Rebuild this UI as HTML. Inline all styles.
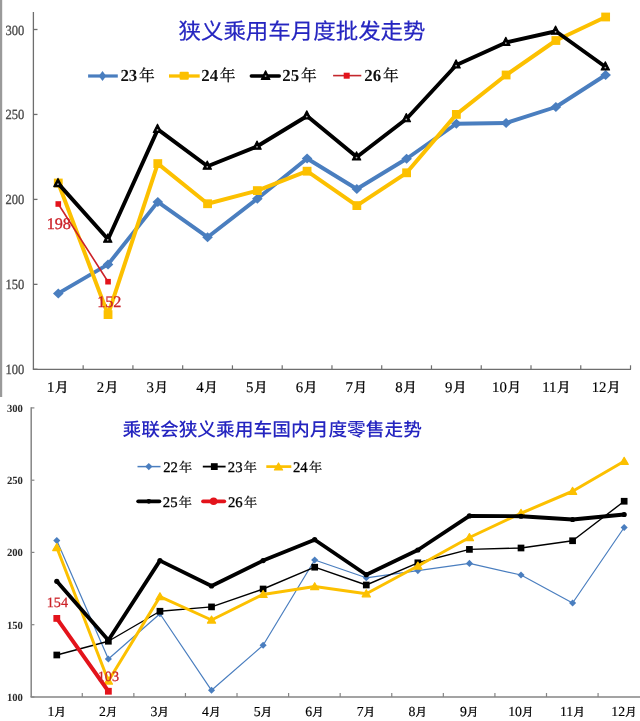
<!DOCTYPE html><html><head><meta charset="utf-8"><title>狭义乘用车走势</title><style>html,body{margin:0;padding:0;background:#fff;overflow:hidden;}svg{display:block;text-rendering:geometricPrecision;}</style></head><body>
<svg width="640" height="721" viewBox="0 0 640 721">
<rect width="640" height="721" fill="#fff"/>
<rect x="0" y="0" width="2.2" height="397" fill="#9a9a9a"/>
<line x1="33.4" y1="12" x2="33.4" y2="369.3" stroke="#6e6e6e" stroke-width="1.3"/>
<line x1="32.8" y1="369.3" x2="631" y2="369.3" stroke="#6e6e6e" stroke-width="1.3"/>
<line x1="33.4" y1="29.5" x2="37.5" y2="29.5" stroke="#6e6e6e" stroke-width="1.3"/>
<text x="24.3" y="34.5" text-anchor="end" font-family="'Liberation Serif','Noto Serif CJK SC',serif" font-size="14" fill="#4a4a4a" stroke="#4a4a4a" stroke-width="0.3" textLength="18.8" lengthAdjust="spacingAndGlyphs">300</text>
<line x1="33.4" y1="114.45" x2="37.5" y2="114.45" stroke="#6e6e6e" stroke-width="1.3"/>
<text x="24.3" y="119.45" text-anchor="end" font-family="'Liberation Serif','Noto Serif CJK SC',serif" font-size="14" fill="#4a4a4a" stroke="#4a4a4a" stroke-width="0.3" textLength="18.8" lengthAdjust="spacingAndGlyphs">250</text>
<line x1="33.4" y1="199.4" x2="37.5" y2="199.4" stroke="#6e6e6e" stroke-width="1.3"/>
<text x="24.3" y="204.4" text-anchor="end" font-family="'Liberation Serif','Noto Serif CJK SC',serif" font-size="14" fill="#4a4a4a" stroke="#4a4a4a" stroke-width="0.3" textLength="18.8" lengthAdjust="spacingAndGlyphs">200</text>
<line x1="33.4" y1="284.35" x2="37.5" y2="284.35" stroke="#6e6e6e" stroke-width="1.3"/>
<text x="24.3" y="289.35" text-anchor="end" font-family="'Liberation Serif','Noto Serif CJK SC',serif" font-size="14" fill="#4a4a4a" stroke="#4a4a4a" stroke-width="0.3" textLength="18.8" lengthAdjust="spacingAndGlyphs">150</text>
<line x1="33.4" y1="369.3" x2="37.5" y2="369.3" stroke="#6e6e6e" stroke-width="1.3"/>
<text x="24.3" y="374.3" text-anchor="end" font-family="'Liberation Serif','Noto Serif CJK SC',serif" font-size="14" fill="#4a4a4a" stroke="#4a4a4a" stroke-width="0.3" textLength="18.8" lengthAdjust="spacingAndGlyphs">100</text>
<line x1="83.16" y1="365.3" x2="83.16" y2="369.3" stroke="#6e6e6e" stroke-width="1.2"/>
<line x1="132.92" y1="365.3" x2="132.92" y2="369.3" stroke="#6e6e6e" stroke-width="1.2"/>
<line x1="182.68" y1="365.3" x2="182.68" y2="369.3" stroke="#6e6e6e" stroke-width="1.2"/>
<line x1="232.44" y1="365.3" x2="232.44" y2="369.3" stroke="#6e6e6e" stroke-width="1.2"/>
<line x1="282.2" y1="365.3" x2="282.2" y2="369.3" stroke="#6e6e6e" stroke-width="1.2"/>
<line x1="331.96" y1="365.3" x2="331.96" y2="369.3" stroke="#6e6e6e" stroke-width="1.2"/>
<line x1="381.72" y1="365.3" x2="381.72" y2="369.3" stroke="#6e6e6e" stroke-width="1.2"/>
<line x1="431.48" y1="365.3" x2="431.48" y2="369.3" stroke="#6e6e6e" stroke-width="1.2"/>
<line x1="481.24" y1="365.3" x2="481.24" y2="369.3" stroke="#6e6e6e" stroke-width="1.2"/>
<line x1="531" y1="365.3" x2="531" y2="369.3" stroke="#6e6e6e" stroke-width="1.2"/>
<line x1="580.76" y1="365.3" x2="580.76" y2="369.3" stroke="#6e6e6e" stroke-width="1.2"/>
<line x1="630.52" y1="365.3" x2="630.52" y2="369.3" stroke="#6e6e6e" stroke-width="1.2"/>
<text x="57.68" y="392.3" text-anchor="middle" fill="#000"><tspan font-family="Liberation Serif" font-size="14.8" font-weight="normal" stroke="#000" stroke-width="0.15">1</tspan><tspan font-family="'Noto Serif CJK SC',serif" font-size="13.6" font-weight="normal" dx="0.6" stroke="#000" stroke-width="0.4">月</tspan></text>
<text x="107.44" y="392.3" text-anchor="middle" fill="#000"><tspan font-family="Liberation Serif" font-size="14.8" font-weight="normal" stroke="#000" stroke-width="0.15">2</tspan><tspan font-family="'Noto Serif CJK SC',serif" font-size="13.6" font-weight="normal" dx="0.6" stroke="#000" stroke-width="0.4">月</tspan></text>
<text x="157.2" y="392.3" text-anchor="middle" fill="#000"><tspan font-family="Liberation Serif" font-size="14.8" font-weight="normal" stroke="#000" stroke-width="0.15">3</tspan><tspan font-family="'Noto Serif CJK SC',serif" font-size="13.6" font-weight="normal" dx="0.6" stroke="#000" stroke-width="0.4">月</tspan></text>
<text x="206.96" y="392.3" text-anchor="middle" fill="#000"><tspan font-family="Liberation Serif" font-size="14.8" font-weight="normal" stroke="#000" stroke-width="0.15">4</tspan><tspan font-family="'Noto Serif CJK SC',serif" font-size="13.6" font-weight="normal" dx="0.6" stroke="#000" stroke-width="0.4">月</tspan></text>
<text x="256.72" y="392.3" text-anchor="middle" fill="#000"><tspan font-family="Liberation Serif" font-size="14.8" font-weight="normal" stroke="#000" stroke-width="0.15">5</tspan><tspan font-family="'Noto Serif CJK SC',serif" font-size="13.6" font-weight="normal" dx="0.6" stroke="#000" stroke-width="0.4">月</tspan></text>
<text x="306.48" y="392.3" text-anchor="middle" fill="#000"><tspan font-family="Liberation Serif" font-size="14.8" font-weight="normal" stroke="#000" stroke-width="0.15">6</tspan><tspan font-family="'Noto Serif CJK SC',serif" font-size="13.6" font-weight="normal" dx="0.6" stroke="#000" stroke-width="0.4">月</tspan></text>
<text x="356.24" y="392.3" text-anchor="middle" fill="#000"><tspan font-family="Liberation Serif" font-size="14.8" font-weight="normal" stroke="#000" stroke-width="0.15">7</tspan><tspan font-family="'Noto Serif CJK SC',serif" font-size="13.6" font-weight="normal" dx="0.6" stroke="#000" stroke-width="0.4">月</tspan></text>
<text x="406" y="392.3" text-anchor="middle" fill="#000"><tspan font-family="Liberation Serif" font-size="14.8" font-weight="normal" stroke="#000" stroke-width="0.15">8</tspan><tspan font-family="'Noto Serif CJK SC',serif" font-size="13.6" font-weight="normal" dx="0.6" stroke="#000" stroke-width="0.4">月</tspan></text>
<text x="455.76" y="392.3" text-anchor="middle" fill="#000"><tspan font-family="Liberation Serif" font-size="14.8" font-weight="normal" stroke="#000" stroke-width="0.15">9</tspan><tspan font-family="'Noto Serif CJK SC',serif" font-size="13.6" font-weight="normal" dx="0.6" stroke="#000" stroke-width="0.4">月</tspan></text>
<text x="506.62" y="392.3" text-anchor="middle" fill="#000"><tspan font-family="Liberation Serif" font-size="14.8" font-weight="normal" stroke="#000" stroke-width="0.15">10</tspan><tspan font-family="'Noto Serif CJK SC',serif" font-size="13.6" font-weight="normal" dx="0.6" stroke="#000" stroke-width="0.4">月</tspan></text>
<text x="556.38" y="392.3" text-anchor="middle" fill="#000"><tspan font-family="Liberation Serif" font-size="14.8" font-weight="normal" stroke="#000" stroke-width="0.15">11</tspan><tspan font-family="'Noto Serif CJK SC',serif" font-size="13.6" font-weight="normal" dx="0.6" stroke="#000" stroke-width="0.4">月</tspan></text>
<text x="606.14" y="392.3" text-anchor="middle" fill="#000"><tspan font-family="Liberation Serif" font-size="14.8" font-weight="normal" stroke="#000" stroke-width="0.15">12</tspan><tspan font-family="'Noto Serif CJK SC',serif" font-size="13.6" font-weight="normal" dx="0.6" stroke="#000" stroke-width="0.4">月</tspan></text>
<text x="178.5" y="38.6" font-family="'Noto Sans CJK SC','Liberation Sans',sans-serif" font-size="22" font-weight="normal" fill="#2525c0" stroke="#2525c0" stroke-width="0.2" textLength="247" lengthAdjust="spacingAndGlyphs">狭义乘用车月度批发走势</text>
<polyline points="88.1,76 117.8,76" fill="none" stroke="#4a7ebf" stroke-width="3.2" stroke-linejoin="round" stroke-linecap="butt"/>
<path d="M102.5 70.9L106.2 76L102.5 81.1L98.8 76Z" fill="#4a7ebf"/>
<polyline points="169,76 199.7,76" fill="none" stroke="#fcc000" stroke-width="3.3" stroke-linejoin="round" stroke-linecap="butt"/>
<rect x="179.6" y="71.7" width="9.2" height="8.1" rx="1" fill="#fcc000"/>
<polyline points="251.3,76 279.3,76" fill="none" stroke="#000" stroke-width="3.4" stroke-linejoin="round" stroke-linecap="round"/>
<path d="M265.6 70.8L269.9 79.5L261.3 79.5Z" fill="#000" stroke="#000" stroke-width="1.2" stroke-linejoin="round"/><circle cx="265.6" cy="76.1" r="0.9" fill="#999"/>
<polyline points="333.1,75.6 361.3,75.6" fill="none" stroke="#c4262c" stroke-width="1.6" stroke-linejoin="round" stroke-linecap="butt"/>
<rect x="343.7" y="72.7" width="6" height="6" fill="#e3131b"/>
<text x="120.4" y="81.2" fill="#111"><tspan font-family="Liberation Serif" font-size="16.9" font-weight="bold">23</tspan><tspan font-family="'Noto Serif CJK SC',serif" font-size="15.8" font-weight="normal" dx="1.7" stroke="#111" stroke-width="0.3">年</tspan></text>
<text x="201.2" y="81.2" fill="#111"><tspan font-family="Liberation Serif" font-size="16.9" font-weight="bold">24</tspan><tspan font-family="'Noto Serif CJK SC',serif" font-size="15.8" font-weight="normal" dx="1.7" stroke="#111" stroke-width="0.3">年</tspan></text>
<text x="282.3" y="81.2" fill="#111"><tspan font-family="Liberation Serif" font-size="16.9" font-weight="bold">25</tspan><tspan font-family="'Noto Serif CJK SC',serif" font-size="15.8" font-weight="normal" dx="1.7" stroke="#111" stroke-width="0.3">年</tspan></text>
<text x="364.3" y="81.2" fill="#111"><tspan font-family="Liberation Serif" font-size="16.9" font-weight="bold">26</tspan><tspan font-family="'Noto Serif CJK SC',serif" font-size="15.8" font-weight="normal" dx="1.7" stroke="#111" stroke-width="0.3">年</tspan></text>
<polyline points="58.28,293.4 108.04,264.4 157.8,201.9 207.56,237.2 257.32,198.75 307.08,158.5 356.84,189 406.6,158.75 456.36,123.75 506.12,123 555.88,107 605.64,75" fill="none" stroke="#4a7ebf" stroke-width="3.9" stroke-linejoin="round" stroke-linecap="round"/>
<path d="M58.28 288.4L63.58 293.4L58.28 298.4L52.98 293.4Z" fill="#4a7ebf"/>
<path d="M108.04 259.4L113.34 264.4L108.04 269.4L102.74 264.4Z" fill="#4a7ebf"/>
<path d="M157.8 196.9L163.1 201.9L157.8 206.9L152.5 201.9Z" fill="#4a7ebf"/>
<path d="M207.56 232.2L212.86 237.2L207.56 242.2L202.26 237.2Z" fill="#4a7ebf"/>
<path d="M257.32 193.75L262.62 198.75L257.32 203.75L252.02 198.75Z" fill="#4a7ebf"/>
<path d="M307.08 153.5L312.38 158.5L307.08 163.5L301.78 158.5Z" fill="#4a7ebf"/>
<path d="M356.84 184L362.14 189L356.84 194L351.54 189Z" fill="#4a7ebf"/>
<path d="M406.6 153.75L411.9 158.75L406.6 163.75L401.3 158.75Z" fill="#4a7ebf"/>
<path d="M456.36 118.75L461.66 123.75L456.36 128.75L451.06 123.75Z" fill="#4a7ebf"/>
<path d="M506.12 118L511.42 123L506.12 128L500.82 123Z" fill="#4a7ebf"/>
<path d="M555.88 102L561.18 107L555.88 112L550.58 107Z" fill="#4a7ebf"/>
<path d="M605.64 70L610.94 75L605.64 80L600.34 75Z" fill="#4a7ebf"/>
<polyline points="58.28,183 108.04,314.6 157.8,163.6 207.56,203.75 257.32,190.6 307.08,171.2 356.84,205.6 406.6,172.8 456.36,114.4 506.12,75 555.88,40.5 605.64,17" fill="none" stroke="#fcc000" stroke-width="4.0" stroke-linejoin="round" stroke-linecap="round"/>
<rect x="53.88" y="178.6" width="8.8" height="8.8" fill="#fcc000"/>
<rect x="103.64" y="310.2" width="8.8" height="8.8" fill="#fcc000"/>
<rect x="153.4" y="159.2" width="8.8" height="8.8" fill="#fcc000"/>
<rect x="203.16" y="199.35" width="8.8" height="8.8" fill="#fcc000"/>
<rect x="252.92" y="186.2" width="8.8" height="8.8" fill="#fcc000"/>
<rect x="302.68" y="166.8" width="8.8" height="8.8" fill="#fcc000"/>
<rect x="352.44" y="201.2" width="8.8" height="8.8" fill="#fcc000"/>
<rect x="402.2" y="168.4" width="8.8" height="8.8" fill="#fcc000"/>
<rect x="451.96" y="110" width="8.8" height="8.8" fill="#fcc000"/>
<rect x="501.72" y="70.6" width="8.8" height="8.8" fill="#fcc000"/>
<rect x="551.48" y="36.1" width="8.8" height="8.8" fill="#fcc000"/>
<rect x="601.24" y="12.6" width="8.8" height="8.8" fill="#fcc000"/>
<polyline points="58.28,183.6 108.04,239.2 157.8,129.4 207.56,166.25 257.32,146.25 307.08,116 356.84,157 406.6,118.75 456.36,65 506.12,42.5 555.88,31.25 605.64,67" fill="none" stroke="#000" stroke-width="3.9" stroke-linejoin="round" stroke-linecap="round"/>
<path d="M57.98 178.4L62.18 186.6L53.78 186.6Z" fill="#000" stroke="#000" stroke-width="1.2" stroke-linejoin="round"/><circle cx="57.98" cy="184.2" r="0.9" fill="#aaa"/>
<path d="M107.74 234L111.94 242.2L103.54 242.2Z" fill="#000" stroke="#000" stroke-width="1.2" stroke-linejoin="round"/><circle cx="107.74" cy="239.8" r="0.9" fill="#aaa"/>
<path d="M157.5 124.2L161.7 132.4L153.3 132.4Z" fill="#000" stroke="#000" stroke-width="1.2" stroke-linejoin="round"/><circle cx="157.5" cy="130" r="0.9" fill="#aaa"/>
<path d="M207.26 161.05L211.46 169.25L203.06 169.25Z" fill="#000" stroke="#000" stroke-width="1.2" stroke-linejoin="round"/><circle cx="207.26" cy="166.85" r="0.9" fill="#aaa"/>
<path d="M257.02 141.05L261.22 149.25L252.82 149.25Z" fill="#000" stroke="#000" stroke-width="1.2" stroke-linejoin="round"/><circle cx="257.02" cy="146.85" r="0.9" fill="#aaa"/>
<path d="M306.78 110.8L310.98 119L302.58 119Z" fill="#000" stroke="#000" stroke-width="1.2" stroke-linejoin="round"/><circle cx="306.78" cy="116.6" r="0.9" fill="#aaa"/>
<path d="M356.54 151.8L360.74 160L352.34 160Z" fill="#000" stroke="#000" stroke-width="1.2" stroke-linejoin="round"/><circle cx="356.54" cy="157.6" r="0.9" fill="#aaa"/>
<path d="M406.3 113.55L410.5 121.75L402.1 121.75Z" fill="#000" stroke="#000" stroke-width="1.2" stroke-linejoin="round"/><circle cx="406.3" cy="119.35" r="0.9" fill="#aaa"/>
<path d="M456.06 59.8L460.26 68L451.86 68Z" fill="#000" stroke="#000" stroke-width="1.2" stroke-linejoin="round"/><circle cx="456.06" cy="65.6" r="0.9" fill="#aaa"/>
<path d="M505.82 37.3L510.02 45.5L501.62 45.5Z" fill="#000" stroke="#000" stroke-width="1.2" stroke-linejoin="round"/><circle cx="505.82" cy="43.1" r="0.9" fill="#aaa"/>
<path d="M555.58 26.05L559.78 34.25L551.38 34.25Z" fill="#000" stroke="#000" stroke-width="1.2" stroke-linejoin="round"/><circle cx="555.58" cy="31.85" r="0.9" fill="#aaa"/>
<path d="M605.34 61.8L609.54 70L601.14 70Z" fill="#000" stroke="#000" stroke-width="1.2" stroke-linejoin="round"/><circle cx="605.34" cy="67.6" r="0.9" fill="#aaa"/>
<polyline points="58.28,204 108.04,281.7" fill="none" stroke="#cc2228" stroke-width="1.6" stroke-linejoin="round" stroke-linecap="round"/>
<rect x="55.48" y="201.2" width="5.6" height="5.6" fill="#e3131b"/>
<rect x="105.24" y="278.9" width="5.6" height="5.6" fill="#e3131b"/>
<text x="58.8" y="228.8" text-anchor="middle" font-family="'Liberation Serif','Noto Serif CJK SC',serif" font-size="16.2" fill="#cc2229" stroke="#cc2229" stroke-width="0.3">198</text>
<text x="109.3" y="307" text-anchor="middle" font-family="'Liberation Serif','Noto Serif CJK SC',serif" font-size="16.2" fill="#cc2229" stroke="#cc2229" stroke-width="0.3">152</text>
<line x1="31.2" y1="407.2" x2="31.2" y2="697" stroke="#858585" stroke-width="1.5"/>
<line x1="30.5" y1="697" x2="640" y2="697" stroke="#858585" stroke-width="1.6"/>
<line x1="31.2" y1="407.9" x2="34.4" y2="407.9" stroke="#858585" stroke-width="1.2"/>
<text x="22.9" y="411.7" text-anchor="end" font-family="'Liberation Serif','Noto Serif CJK SC',serif" font-weight="bold" font-size="11" fill="#2a2a2a" textLength="16" lengthAdjust="spacingAndGlyphs">300</text>
<line x1="31.2" y1="480.2" x2="34.4" y2="480.2" stroke="#858585" stroke-width="1.2"/>
<text x="22.9" y="484" text-anchor="end" font-family="'Liberation Serif','Noto Serif CJK SC',serif" font-weight="bold" font-size="11" fill="#2a2a2a" textLength="16" lengthAdjust="spacingAndGlyphs">250</text>
<line x1="31.2" y1="552.4" x2="34.4" y2="552.4" stroke="#858585" stroke-width="1.2"/>
<text x="22.9" y="556.2" text-anchor="end" font-family="'Liberation Serif','Noto Serif CJK SC',serif" font-weight="bold" font-size="11" fill="#2a2a2a" textLength="16" lengthAdjust="spacingAndGlyphs">200</text>
<line x1="31.2" y1="624.7" x2="34.4" y2="624.7" stroke="#858585" stroke-width="1.2"/>
<text x="22.9" y="628.5" text-anchor="end" font-family="'Liberation Serif','Noto Serif CJK SC',serif" font-weight="bold" font-size="11" fill="#2a2a2a" textLength="16" lengthAdjust="spacingAndGlyphs">150</text>
<line x1="31.2" y1="697" x2="34.4" y2="697" stroke="#858585" stroke-width="1.2"/>
<text x="22.9" y="700.8" text-anchor="end" font-family="'Liberation Serif','Noto Serif CJK SC',serif" font-weight="bold" font-size="11" fill="#2a2a2a" textLength="16" lengthAdjust="spacingAndGlyphs">100</text>
<line x1="82.28" y1="693" x2="82.28" y2="697" stroke="#858585" stroke-width="1.2"/>
<line x1="133.86" y1="693" x2="133.86" y2="697" stroke="#858585" stroke-width="1.2"/>
<line x1="185.44" y1="693" x2="185.44" y2="697" stroke="#858585" stroke-width="1.2"/>
<line x1="237.02" y1="693" x2="237.02" y2="697" stroke="#858585" stroke-width="1.2"/>
<line x1="288.6" y1="693" x2="288.6" y2="697" stroke="#858585" stroke-width="1.2"/>
<line x1="340.18" y1="693" x2="340.18" y2="697" stroke="#858585" stroke-width="1.2"/>
<line x1="391.76" y1="693" x2="391.76" y2="697" stroke="#858585" stroke-width="1.2"/>
<line x1="443.34" y1="693" x2="443.34" y2="697" stroke="#858585" stroke-width="1.2"/>
<line x1="494.92" y1="693" x2="494.92" y2="697" stroke="#858585" stroke-width="1.2"/>
<line x1="546.5" y1="693" x2="546.5" y2="697" stroke="#858585" stroke-width="1.2"/>
<line x1="598.08" y1="693" x2="598.08" y2="697" stroke="#858585" stroke-width="1.2"/>
<text x="56.59" y="715.6" text-anchor="middle" fill="#000"><tspan font-family="Liberation Serif" font-size="13.8" font-weight="normal" stroke="#000" stroke-width="0.15">1</tspan><tspan font-family="'Noto Serif CJK SC',serif" font-size="11.4" font-weight="normal" dx="0.1" stroke="#000" stroke-width="0.35">月</tspan></text>
<text x="108.17" y="715.6" text-anchor="middle" fill="#000"><tspan font-family="Liberation Serif" font-size="13.8" font-weight="normal" stroke="#000" stroke-width="0.15">2</tspan><tspan font-family="'Noto Serif CJK SC',serif" font-size="11.4" font-weight="normal" dx="0.1" stroke="#000" stroke-width="0.35">月</tspan></text>
<text x="159.75" y="715.6" text-anchor="middle" fill="#000"><tspan font-family="Liberation Serif" font-size="13.8" font-weight="normal" stroke="#000" stroke-width="0.15">3</tspan><tspan font-family="'Noto Serif CJK SC',serif" font-size="11.4" font-weight="normal" dx="0.1" stroke="#000" stroke-width="0.35">月</tspan></text>
<text x="211.33" y="715.6" text-anchor="middle" fill="#000"><tspan font-family="Liberation Serif" font-size="13.8" font-weight="normal" stroke="#000" stroke-width="0.15">4</tspan><tspan font-family="'Noto Serif CJK SC',serif" font-size="11.4" font-weight="normal" dx="0.1" stroke="#000" stroke-width="0.35">月</tspan></text>
<text x="262.91" y="715.6" text-anchor="middle" fill="#000"><tspan font-family="Liberation Serif" font-size="13.8" font-weight="normal" stroke="#000" stroke-width="0.15">5</tspan><tspan font-family="'Noto Serif CJK SC',serif" font-size="11.4" font-weight="normal" dx="0.1" stroke="#000" stroke-width="0.35">月</tspan></text>
<text x="314.49" y="715.6" text-anchor="middle" fill="#000"><tspan font-family="Liberation Serif" font-size="13.8" font-weight="normal" stroke="#000" stroke-width="0.15">6</tspan><tspan font-family="'Noto Serif CJK SC',serif" font-size="11.4" font-weight="normal" dx="0.1" stroke="#000" stroke-width="0.35">月</tspan></text>
<text x="366.07" y="715.6" text-anchor="middle" fill="#000"><tspan font-family="Liberation Serif" font-size="13.8" font-weight="normal" stroke="#000" stroke-width="0.15">7</tspan><tspan font-family="'Noto Serif CJK SC',serif" font-size="11.4" font-weight="normal" dx="0.1" stroke="#000" stroke-width="0.35">月</tspan></text>
<text x="417.65" y="715.6" text-anchor="middle" fill="#000"><tspan font-family="Liberation Serif" font-size="13.8" font-weight="normal" stroke="#000" stroke-width="0.15">8</tspan><tspan font-family="'Noto Serif CJK SC',serif" font-size="11.4" font-weight="normal" dx="0.1" stroke="#000" stroke-width="0.35">月</tspan></text>
<text x="469.23" y="715.6" text-anchor="middle" fill="#000"><tspan font-family="Liberation Serif" font-size="13.8" font-weight="normal" stroke="#000" stroke-width="0.15">9</tspan><tspan font-family="'Noto Serif CJK SC',serif" font-size="11.4" font-weight="normal" dx="0.1" stroke="#000" stroke-width="0.35">月</tspan></text>
<text x="520.81" y="715.6" text-anchor="middle" fill="#000"><tspan font-family="Liberation Serif" font-size="13.8" font-weight="normal" stroke="#000" stroke-width="0.15">10</tspan><tspan font-family="'Noto Serif CJK SC',serif" font-size="11.4" font-weight="normal" dx="0.1" stroke="#000" stroke-width="0.35">月</tspan></text>
<text x="572.39" y="715.6" text-anchor="middle" fill="#000"><tspan font-family="Liberation Serif" font-size="13.8" font-weight="normal" stroke="#000" stroke-width="0.15">11</tspan><tspan font-family="'Noto Serif CJK SC',serif" font-size="11.4" font-weight="normal" dx="0.1" stroke="#000" stroke-width="0.35">月</tspan></text>
<text x="623.97" y="715.6" text-anchor="middle" fill="#000"><tspan font-family="Liberation Serif" font-size="13.8" font-weight="normal" stroke="#000" stroke-width="0.15">12</tspan><tspan font-family="'Noto Serif CJK SC',serif" font-size="11.4" font-weight="normal" dx="0.1" stroke="#000" stroke-width="0.35">月</tspan></text>
<text x="122.5" y="435.5" font-family="'Noto Sans CJK SC','Liberation Sans',sans-serif" font-size="18.5" font-weight="500" fill="#2525c0" textLength="299.5" lengthAdjust="spacingAndGlyphs">乘联会狭义乘用车国内月度零售走势</text>
<polyline points="137.5,466.6 160.5,466.6" fill="none" stroke="#4a7ebf" stroke-width="1.5" stroke-linejoin="round" stroke-linecap="butt"/>
<path d="M148.8 463L152.4 466.6L148.8 470.2L145.2 466.6Z" fill="#4a7ebf"/>
<polyline points="202.8,466.6 225.6,466.6" fill="none" stroke="#000" stroke-width="1.8" stroke-linejoin="round" stroke-linecap="butt"/>
<rect x="210.9" y="463.2" width="6.8" height="6.8" fill="#000"/>
<polyline points="266.3,466.6 291.3,466.6" fill="none" stroke="#fcc000" stroke-width="2.7" stroke-linejoin="round" stroke-linecap="butt"/>
<path d="M278.5 463L282.6 470.02L274.4 470.02Z" fill="#fcc000" stroke="#fcc000" stroke-width="1.2" stroke-linejoin="round"/>
<polyline points="138.2,501.3 159.4,501.3" fill="none" stroke="#000" stroke-width="3.8" stroke-linejoin="round" stroke-linecap="round"/>
<circle cx="148.8" cy="501.3" r="2.4" fill="#000"/>
<polyline points="203,501.3 224.3,501.3" fill="none" stroke="#e3131b" stroke-width="3.7" stroke-linejoin="round" stroke-linecap="round"/>
<circle cx="213.6" cy="501.3" r="3.8" fill="#e3131b"/>
<text x="163.2" y="471.8" fill="#000"><tspan font-family="Liberation Serif" font-size="14.7" font-weight="normal" stroke="#000" stroke-width="0.3">22</tspan><tspan font-family="'Noto Serif CJK SC',serif" font-size="13.2" font-weight="normal" dx="1.2" stroke="#000" stroke-width="0.2">年</tspan></text>
<text x="227.8" y="471.8" fill="#000"><tspan font-family="Liberation Serif" font-size="14.7" font-weight="normal" stroke="#000" stroke-width="0.3">23</tspan><tspan font-family="'Noto Serif CJK SC',serif" font-size="13.2" font-weight="normal" dx="1.2" stroke="#000" stroke-width="0.2">年</tspan></text>
<text x="293" y="471.8" fill="#000"><tspan font-family="Liberation Serif" font-size="14.7" font-weight="normal" stroke="#000" stroke-width="0.3">24</tspan><tspan font-family="'Noto Serif CJK SC',serif" font-size="13.2" font-weight="normal" dx="1.2" stroke="#000" stroke-width="0.2">年</tspan></text>
<text x="162.8" y="506.6" fill="#000"><tspan font-family="Liberation Serif" font-size="14.7" font-weight="normal" stroke="#000" stroke-width="0.3">25</tspan><tspan font-family="'Noto Serif CJK SC',serif" font-size="13.2" font-weight="normal" dx="1.2" stroke="#000" stroke-width="0.2">年</tspan></text>
<text x="228" y="506.6" fill="#000"><tspan font-family="Liberation Serif" font-size="14.7" font-weight="normal" stroke="#000" stroke-width="0.3">26</tspan><tspan font-family="'Noto Serif CJK SC',serif" font-size="13.2" font-weight="normal" dx="1.2" stroke="#000" stroke-width="0.2">年</tspan></text>
<polyline points="56.79,540.6 108.37,659 159.95,613.75 211.53,690.3 263.11,645.3 314.69,560 366.27,577.8 417.85,570.6 469.43,563.4 521.01,575 572.59,603 624.17,527.5" fill="none" stroke="#4a7ebf" stroke-width="1.2" stroke-linejoin="round" stroke-linecap="round"/>
<path d="M56.79 537.05L60.34 540.6L56.79 544.15L53.24 540.6Z" fill="#4a7ebf"/>
<path d="M108.37 655.45L111.92 659L108.37 662.55L104.82 659Z" fill="#4a7ebf"/>
<path d="M159.95 610.2L163.5 613.75L159.95 617.3L156.4 613.75Z" fill="#4a7ebf"/>
<path d="M211.53 686.75L215.08 690.3L211.53 693.85L207.98 690.3Z" fill="#4a7ebf"/>
<path d="M263.11 641.75L266.66 645.3L263.11 648.85L259.56 645.3Z" fill="#4a7ebf"/>
<path d="M314.69 556.45L318.24 560L314.69 563.55L311.14 560Z" fill="#4a7ebf"/>
<path d="M366.27 574.25L369.82 577.8L366.27 581.35L362.72 577.8Z" fill="#4a7ebf"/>
<path d="M417.85 567.05L421.4 570.6L417.85 574.15L414.3 570.6Z" fill="#4a7ebf"/>
<path d="M469.43 559.85L472.98 563.4L469.43 566.95L465.88 563.4Z" fill="#4a7ebf"/>
<path d="M521.01 571.45L524.56 575L521.01 578.55L517.46 575Z" fill="#4a7ebf"/>
<path d="M572.59 599.45L576.14 603L572.59 606.55L569.04 603Z" fill="#4a7ebf"/>
<path d="M624.17 523.95L627.72 527.5L624.17 531.05L620.62 527.5Z" fill="#4a7ebf"/>
<polyline points="56.79,655 108.37,641.25 159.95,611.25 211.53,606.9 263.11,589 314.69,567.2 366.27,585 417.85,562.8 469.43,549.4 521.01,548 572.59,540.75 624.17,501.25" fill="none" stroke="#000" stroke-width="1.4" stroke-linejoin="round" stroke-linecap="round"/>
<rect x="53.44" y="651.65" width="6.7" height="6.7" fill="#000"/>
<rect x="105.02" y="637.9" width="6.7" height="6.7" fill="#000"/>
<rect x="156.6" y="607.9" width="6.7" height="6.7" fill="#000"/>
<rect x="208.18" y="603.55" width="6.7" height="6.7" fill="#000"/>
<rect x="259.76" y="585.65" width="6.7" height="6.7" fill="#000"/>
<rect x="311.34" y="563.85" width="6.7" height="6.7" fill="#000"/>
<rect x="362.92" y="581.65" width="6.7" height="6.7" fill="#000"/>
<rect x="414.5" y="559.45" width="6.7" height="6.7" fill="#000"/>
<rect x="466.08" y="546.05" width="6.7" height="6.7" fill="#000"/>
<rect x="517.66" y="544.65" width="6.7" height="6.7" fill="#000"/>
<rect x="569.24" y="537.4" width="6.7" height="6.7" fill="#000"/>
<rect x="620.82" y="497.9" width="6.7" height="6.7" fill="#000"/>
<polyline points="56.79,547.5 108.37,681 159.95,596.6 211.53,620 263.11,594.4 314.69,586.6 366.27,593.75 417.85,566 469.43,537.5 521.01,513.25 572.59,491.25 624.17,461.25" fill="none" stroke="#fcc000" stroke-width="3.0" stroke-linejoin="round" stroke-linecap="round"/>
<path d="M56.79 543.6L60.88 550.62L52.7 550.62Z" fill="#fcc000" stroke="#fcc000" stroke-width="1.2" stroke-linejoin="round"/>
<path d="M108.37 677.1L112.47 684.12L104.28 684.12Z" fill="#fcc000" stroke="#fcc000" stroke-width="1.2" stroke-linejoin="round"/>
<path d="M159.95 592.7L164.04 599.72L155.85 599.72Z" fill="#fcc000" stroke="#fcc000" stroke-width="1.2" stroke-linejoin="round"/>
<path d="M211.53 616.1L215.62 623.12L207.44 623.12Z" fill="#fcc000" stroke="#fcc000" stroke-width="1.2" stroke-linejoin="round"/>
<path d="M263.11 590.5L267.21 597.52L259.01 597.52Z" fill="#fcc000" stroke="#fcc000" stroke-width="1.2" stroke-linejoin="round"/>
<path d="M314.69 582.7L318.79 589.72L310.59 589.72Z" fill="#fcc000" stroke="#fcc000" stroke-width="1.2" stroke-linejoin="round"/>
<path d="M366.27 589.85L370.37 596.87L362.17 596.87Z" fill="#fcc000" stroke="#fcc000" stroke-width="1.2" stroke-linejoin="round"/>
<path d="M417.85 562.1L421.94 569.12L413.75 569.12Z" fill="#fcc000" stroke="#fcc000" stroke-width="1.2" stroke-linejoin="round"/>
<path d="M469.43 533.6L473.53 540.62L465.33 540.62Z" fill="#fcc000" stroke="#fcc000" stroke-width="1.2" stroke-linejoin="round"/>
<path d="M521.01 509.35L525.11 516.37L516.91 516.37Z" fill="#fcc000" stroke="#fcc000" stroke-width="1.2" stroke-linejoin="round"/>
<path d="M572.59 487.35L576.69 494.37L568.5 494.37Z" fill="#fcc000" stroke="#fcc000" stroke-width="1.2" stroke-linejoin="round"/>
<path d="M624.17 457.35L628.26 464.37L620.07 464.37Z" fill="#fcc000" stroke="#fcc000" stroke-width="1.2" stroke-linejoin="round"/>
<polyline points="56.79,581.3 108.37,640.3 159.95,560.6 211.53,586 263.11,560.6 314.69,539.7 366.27,574.7 417.85,550 469.43,515.9 521.01,516.25 572.59,519.5 624.17,514.5" fill="none" stroke="#000" stroke-width="3.8" stroke-linejoin="round" stroke-linecap="round"/>
<circle cx="56.79" cy="581.3" r="2.6" fill="#000"/>
<circle cx="108.37" cy="640.3" r="2.6" fill="#000"/>
<circle cx="159.95" cy="560.6" r="2.6" fill="#000"/>
<circle cx="211.53" cy="586" r="2.6" fill="#000"/>
<circle cx="263.11" cy="560.6" r="2.6" fill="#000"/>
<circle cx="314.69" cy="539.7" r="2.6" fill="#000"/>
<circle cx="366.27" cy="574.7" r="2.6" fill="#000"/>
<circle cx="417.85" cy="550" r="2.6" fill="#000"/>
<circle cx="469.43" cy="515.9" r="2.6" fill="#000"/>
<circle cx="521.01" cy="516.25" r="2.6" fill="#000"/>
<circle cx="572.59" cy="519.5" r="2.6" fill="#000"/>
<circle cx="624.17" cy="514.5" r="2.6" fill="#000"/>
<polyline points="56.79,618.4 108.37,691.25" fill="none" stroke="#e3131b" stroke-width="3.9" stroke-linejoin="round" stroke-linecap="round"/>
<rect x="53.39" y="615" width="6.8" height="6.8" fill="#e3131b"/>
<rect x="104.97" y="687.85" width="6.8" height="6.8" fill="#e3131b"/>
<text x="57.4" y="607" text-anchor="middle" font-family="'Liberation Serif','Noto Serif CJK SC',serif" font-size="14.2" fill="#cc2229" stroke="#cc2229" stroke-width="0.25">154</text>
<text x="108.4" y="681" text-anchor="middle" font-family="'Liberation Serif','Noto Serif CJK SC',serif" font-size="14.2" fill="#cc2229" stroke="#cc2229" stroke-width="0.25">103</text>
</svg></body></html>
